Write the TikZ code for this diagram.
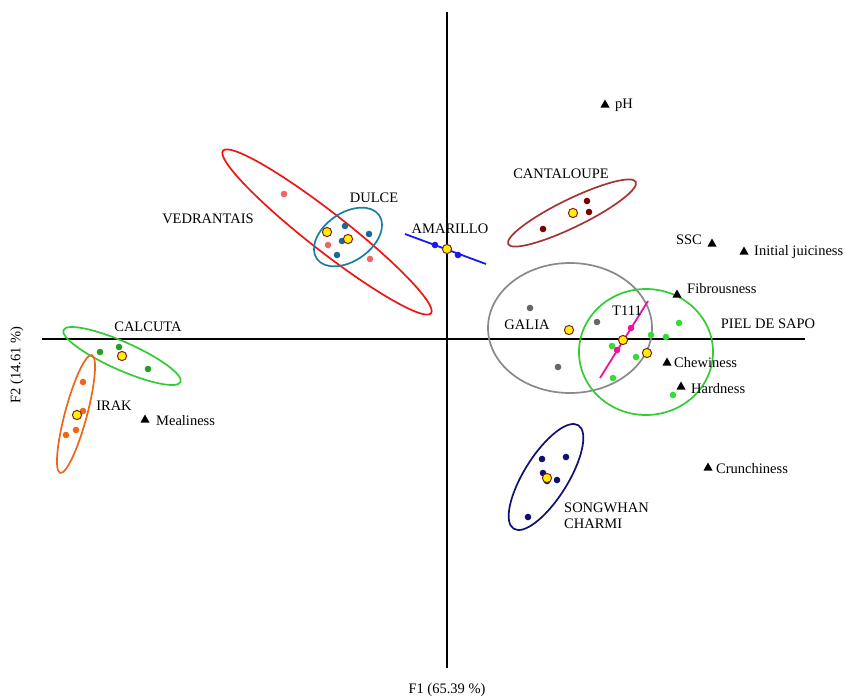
\documentclass[tikz,border=0pt]{standalone}
\usepackage{fontspec}
\setmainfont{Liberation Serif}
\begin{document}
\begin{tikzpicture}[x=1pt,y=-1pt,
  lbl/.style={font=\fontsize{14.5}{16}\selectfont, inner sep=0pt},
  ell/.style={line width=1.7pt}
]
\definecolor{cgreen}{HTML}{33CC33}
\definecolor{cgreendot}{HTML}{22A022}
\definecolor{pgreendot}{HTML}{33DD33}
\definecolor{corange}{HTML}{EE6618}
\definecolor{cred}{HTML}{EE1515}
\definecolor{csalmon}{HTML}{EE6666}
\definecolor{cteal}{HTML}{1A7FA0}
\definecolor{ctealdot}{HTML}{1A6A98}
\definecolor{cblue}{HTML}{1A1AEE}
\definecolor{cbrown}{HTML}{A33535}
\definecolor{cbrowndot}{HTML}{7A0000}
\definecolor{cgray}{HTML}{8A8A8A}
\definecolor{cgraydot}{HTML}{666666}
\definecolor{cmag}{HTML}{EE1199}
\definecolor{cnavy}{HTML}{10106E}
\definecolor{meanedge}{HTML}{8B1A1A}
\tikzset{mean/.style={fill=yellow, draw=meanedge, line width=1pt}}
\useasboundingbox (0,0) rectangle (845,699);
\fill[white] (0,0) rectangle (845,699);
% axes
\coordinate (xl) at (42,339); \coordinate (xr) at (805,339);
\coordinate (yt) at (447,12); \coordinate (yb) at (447,668);
\draw[line width=2.4pt] (xl) -- (xr);
\draw[line width=2.4pt] (yt) -- (yb);
\node[lbl] (f1) at (447,690) {F1 (65.39 \%)};
\node[lbl, rotate=90] (f2) at (17,365) {F2 (14.61 \%)};
% CALCUTA
\draw[ell, cgreen, rotate around={-24:(122,356)}] (122,356) ellipse (64 and 14);
\foreach \p in {(100,352),(119,347),(148,369)} \fill[cgreendot] \p circle (3.3);
\draw[mean] (122,356) circle (4.6);
\node[lbl] (calc) at (148,327) {CALCUTA};
% IRAK
\draw[ell, corange, rotate around={75:(76,414)}] (76,414) ellipse (61 and 11);
\foreach \p in {(83,382),(83,411),(76,430),(66,435)} \fill[corange] \p circle (3.3);
\draw[mean] (77,415) circle (4.6);
\node[lbl] (irak) at (114,406) {IRAK};
% VEDRANTAIS
\draw[ell, cred, rotate around={-38:(327,232)}] (327,232) ellipse (132 and 19);
\foreach \p in {(284,194),(328,245),(370,259)} \fill[csalmon] \p circle (3.3);
\node[lbl] (ved) at (208,219) {VEDRANTAIS};
% DULCE
\draw[ell, cteal, rotate around={35:(348,237)}] (348,237) ellipse (38 and 24);
\foreach \p in {(345,226),(369,234),(342,241),(337,255)} \fill[ctealdot] \p circle (3.3);
\draw[mean] (327,232) circle (4.6);
\draw[mean] (348,239) circle (4.6);
\node[lbl] (dul) at (374,198) {DULCE};
% AMARILLO
\coordinate (am1) at (405,234); \coordinate (am2) at (486,264);
\draw[cblue, line width=1.8pt] (am1) -- (am2);
\foreach \p in {(435,245),(458,255)} \fill[cblue] \p circle (3.3);
\draw[mean] (447,249) circle (4.6);
\node[lbl] (ama) at (450,229) {AMARILLO};
% CANTALOUPE
\draw[ell, cbrown, rotate around={26:(572,213)}] (572,213) ellipse (71 and 14);
\foreach \p in {(543,229),(587,201),(589,212)} \fill[cbrowndot] \p circle (3.3);
\draw[mean] (573,213) circle (4.6);
\node[lbl] (cant) at (561,174) {CANTALOUPE};
% GALIA
\draw[ell, cgray] (570,328) ellipse (82 and 65);
\foreach \p in {(530,308),(597,322),(558,367)} \fill[cgraydot] \p circle (3.3);
\draw[mean] (569,330) circle (4.6);
\node[lbl] (gal) at (527,325) {GALIA};
% PIEL DE SAPO
\draw[ell, cgreen] (646,352) ellipse (67 and 63);
\foreach \p in {(612,346),(636,357),(651,335),(666,337),(679,323),(613,378),(673,395)} \fill[pgreendot] \p circle (3.3);
\node[lbl] (piel) at (768,324) {PIEL DE SAPO};
% T111
\coordinate (t1) at (600,378); \coordinate (t2) at (648,301);
\draw[cmag, line width=1.8pt] (t1) -- (t2);
\foreach \p in {(631,328),(617,350)} \fill[cmag] \p circle (3.3);
\draw[mean] (623,340) circle (4.6);
\draw[mean] (647,353) circle (4.6);
\node[lbl] (t111) at (627,311) {T111};
% SONGWHAN CHARMI
\draw[ell, cnavy, rotate around={58:(546,477)}] (546,477) ellipse (61 and 22);
\foreach \p in {(542,459),(566,457),(543,473),(547,481),(557,480),(528,517)} \fill[cnavy] \p circle (3.3);
\draw[mean] (547,478) circle (4.6);
\node[lbl, anchor=west, align=left] (song) at (564,516) {SONGWHAN\\CHARMI};
% attributes
\foreach \n/\x/\y in {ph/605/104, ssc/712/243, ij/744/251, fib/677/294, chew/667/362, hard/681/386, crun/708/467, meal/145/419}
  \fill (\x,\y) ++(0,-4.5) -- ++(-4.5,8) -- ++(9,0) -- cycle;
\node[lbl, anchor=west] (lph) at (615,105) {pH};
\node[lbl, anchor=east] (lssc) at (702,240) {SSC};
\node[lbl, anchor=west] (lij) at (754,252) {Initial juiciness};
\node[lbl, anchor=west] (lfib) at (687,289) {Fibrousness};
\node[lbl, anchor=west] (lchew) at (674,363) {Chewiness};
\node[lbl, anchor=west] (lhard) at (691,389) {Hardness};
\node[lbl, anchor=west] (lcrun) at (716,469) {Crunchiness};
\node[lbl, anchor=west] (lmeal) at (156,421) {Mealiness};
\end{tikzpicture}
\end{document}
